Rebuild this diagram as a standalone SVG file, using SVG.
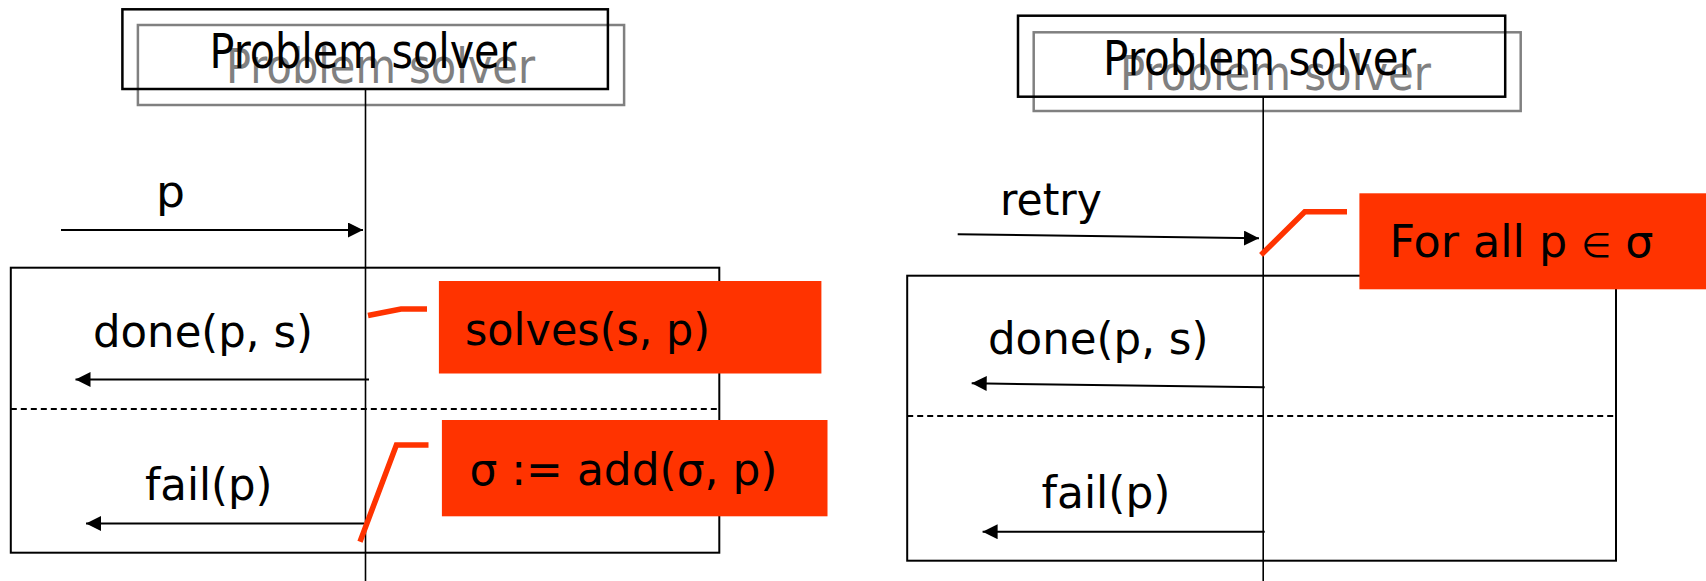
<svg xmlns="http://www.w3.org/2000/svg" width="1706" height="581" viewBox="0 0 1706 581">
  <style>
    .bg { fill: #ffffff; }
    .obj { fill: none; stroke: #000000; stroke-width: 2.5; }
    .ghost { fill: none; stroke: #808080; stroke-width: 2.5; }
    .title { font-family: "DejaVu Sans", "Liberation Sans", sans-serif; font-size: 48px; fill: #000000; }
    .title-ghost { font-family: "DejaVu Sans", "Liberation Sans", sans-serif; font-size: 48px; fill: #808080; }
    .label { font-family: "DejaVu Sans", "Liberation Sans", sans-serif; font-size: 44px; fill: #000000; }
    .sym { font-size: 34px; }
    .life { stroke: #000000; stroke-width: 1.6; fill: none; }
    .frame { fill: none; stroke: #000000; stroke-width: 2; }
    .sep { stroke: #000000; stroke-width: 1.8; stroke-dasharray: 6 4; fill: none; }
    .msg { stroke: #000000; stroke-width: 2; fill: none; marker-end: url(#head); }
    .note { fill: #FF3300; stroke: none; }
    .note-link { fill: none; stroke: #FF3300; stroke-width: 5.5; stroke-linejoin: miter; }
  </style>
  <defs>
    <marker id="head" markerUnits="userSpaceOnUse" markerWidth="16" markerHeight="16" refX="15" refY="7.5" orient="auto">
      <path d="M0,0 L15,7.5 L0,15 z" fill="#000000"/>
    </marker>
  </defs>

  <rect class="bg" x="0" y="0" width="1706" height="581"/>

  <!-- left scenario: solving a single problem -->
  <g id="solver-left">
    <rect class="ghost" x="137.9" y="25" width="486.2" height="80"/>
    <text class="title-ghost" x="226" y="83.3" textLength="309" lengthAdjust="spacingAndGlyphs">Problem solver</text>
    <rect class="obj" x="122.4" y="9.3" width="485.5" height="79.7"/>
    <text class="title" x="209.5" y="68.3" textLength="307" lengthAdjust="spacingAndGlyphs">Problem solver</text>
    <line class="life" x1="365.5" y1="89" x2="365.5" y2="581"/>
  </g>

  <g id="frame-left">
    <rect class="frame" x="10.8" y="267.7" width="708.5" height="285"/>
    <line class="sep" x1="10.8" y1="409" x2="719.3" y2="409"/>
  </g>

  <!-- right scenario: retrying every stored problem -->
  <g id="solver-right">
    <rect class="ghost" x="1033.7" y="32.3" width="487" height="78.7"/>
    <text class="title-ghost" x="1120" y="90" textLength="311" lengthAdjust="spacingAndGlyphs">Problem solver</text>
    <rect class="obj" x="1018" y="15.7" width="487.2" height="81"/>
    <text class="title" x="1103" y="75" textLength="313" lengthAdjust="spacingAndGlyphs">Problem solver</text>
    <line class="life" x1="1263.2" y1="96.7" x2="1263.2" y2="581"/>
  </g>

  <g id="frame-right">
    <rect class="frame" x="907.2" y="275.7" width="708.8" height="285"/>
    <line class="sep" x1="907.2" y1="416" x2="1616" y2="416"/>
  </g>

  <!-- messages -->
  <g id="connectors">
    <line class="msg" x1="61" y1="230" x2="363" y2="230"/>
    <line class="msg" x1="369" y1="379.5" x2="75.5" y2="379.5"/>
    <line class="msg" x1="364" y1="523.5" x2="86" y2="523.5"/>
    <line class="msg" x1="957.7" y1="234.3" x2="1259" y2="238.3"/>
    <line class="msg" x1="1264.7" y1="387.3" x2="971.7" y2="383.3"/>
    <line class="msg" x1="1264.7" y1="531.7" x2="982.6" y2="531.7"/>
  </g>

  <g id="message-labels">
    <text class="label" x="156" y="207" textLength="29" lengthAdjust="spacingAndGlyphs">p</text>
    <text class="label" x="93" y="346.5" textLength="220" lengthAdjust="spacingAndGlyphs">done(p, s)</text>
    <text class="label" x="145" y="500" textLength="127.5" lengthAdjust="spacingAndGlyphs">fail(p)</text>
    <text class="label" x="1000" y="215" textLength="102" lengthAdjust="spacingAndGlyphs">retry</text>
    <text class="label" x="988" y="354" textLength="220.5" lengthAdjust="spacingAndGlyphs">done(p, s)</text>
    <text class="label" x="1041.5" y="508.3" textLength="129" lengthAdjust="spacingAndGlyphs">fail(p)</text>
  </g>

  <!-- annotations -->
  <g id="note-solves">
    <polyline class="note-link" points="368,315.5 401,309 427,309"/>
    <rect class="note" x="438.9" y="281" width="382.5" height="92.5"/>
    <text class="label" x="465" y="345" textLength="245" lengthAdjust="spacingAndGlyphs">solves(s, p)</text>
  </g>

  <g id="note-add">
    <polyline class="note-link" points="360,541.7 396.4,445 428.5,445"/>
    <rect class="note" x="441.9" y="420" width="385.6" height="96.3"/>
    <text class="label" x="469.5" y="485" font-size="40" textLength="308" lengthAdjust="spacingAndGlyphs">σ := add(σ, p)</text>
  </g>

  <g id="note-forall">
    <polyline class="note-link" points="1261,255 1304.8,211.7 1347,211.7"/>
    <rect class="note" x="1359.4" y="193.3" width="346.6" height="96"/>
    <text class="label" x="1389.5" y="256.7" font-size="43" textLength="264" lengthAdjust="spacingAndGlyphs">For all p  <tspan class="sym">∈</tspan>  σ</text>
  </g>
</svg>
